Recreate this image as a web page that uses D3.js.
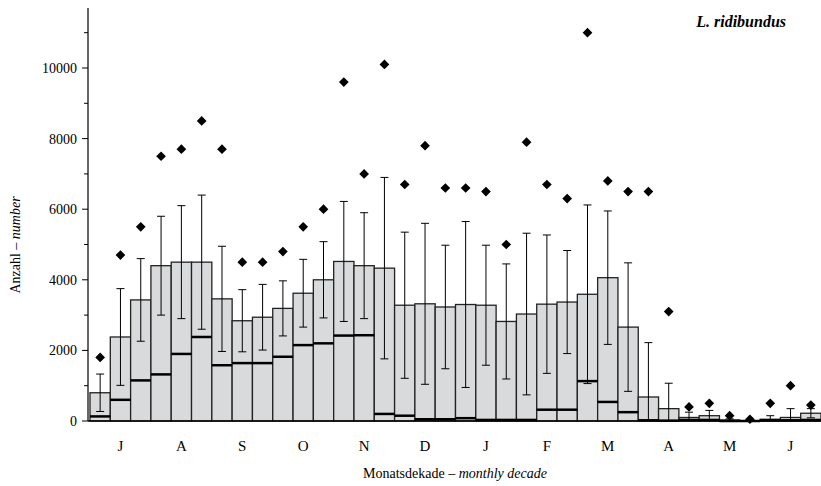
<!DOCTYPE html>
<html><head><meta charset="utf-8">
<script src="https://cdn.jsdelivr.net/npm/d3@7"></script>
<style>body{margin:0;background:#fff}text{font-family:"Liberation Serif",serif}</style>
</head><body><div id="chart"></div>
<script>
const months = ["J","A","S","O","N","D","J","F","M","A","M","J"];
const means  = [800,2380,3430,4400,4500,4500,3460,2840,2940,3190,3620,4000,4520,4400,4330,3280,3320,3230,3300,3280,2820,3030,3310,3370,3590,4060,2660,680,350,100,150,30,0,50,100,220];
const upper  = [1330,3750,4600,5800,6100,6400,4950,3720,3870,3970,4580,5080,6220,5900,6900,5350,5600,4980,5650,4980,4450,5320,5270,4830,6120,5950,4480,2220,1070,250,300,60,0,150,350,350];
const medians= [130,600,1150,1320,1900,2380,1580,1640,1640,1820,2150,2200,2420,2430,200,150,50,50,80,30,30,30,320,320,1130,540,250,20,10,30,30,0,0,20,20,30];
const maxima = [1800,4700,5500,7500,7700,8500,7700,4500,4500,4800,5500,6000,9600,7000,10100,6700,7800,6600,6600,6500,5000,7900,6700,6300,11000,6800,6500,6500,3100,400,500,150,50,500,1000,450];
const yTicks = [0,2000,4000,6000,8000,10000];

const W = 821, H = 486;
const svg = d3.select("#chart").append("svg").attr("width", W).attr("height", H);
const x = d3.scaleBand().domain(d3.range(36)).range([90, 821]).padding(0);
const y = d3.scaleLinear().domain([0, 10000]).range([421, 68]);
const xm = d3.scaleBand().domain(d3.range(12)).range([90, 821]);

const g = svg.append("g");
// bars
g.selectAll("rect.bar").data(means).join("rect")
  .attr("x", (d, i) => x(i)).attr("width", x.bandwidth())
  .attr("y", d => y(d)).attr("height", d => y(0) - y(d))
  .attr("fill", "#d9dadc").attr("stroke", "#222").attr("stroke-width", 1.3);
// medians
g.selectAll("line.med").data(medians).join("line")
  .attr("x1", (d, i) => x(i)).attr("x2", (d, i) => x(i) + x.bandwidth())
  .attr("y1", d => y(d)).attr("y2", d => y(d))
  .attr("stroke", "#000").attr("stroke-width", 2.5);
// error bars (mean ± sd, clipped at 0)
const err = means.map((m, i) => ({i, hi: upper[i], lo: Math.max(0, m - (upper[i] - m))}));
const eg = g.selectAll("g.err").data(err).join("g");
const cx = d => x(d.i) + x.bandwidth() / 2;
eg.append("line").attr("x1", cx).attr("x2", cx).attr("y1", d => y(d.hi)).attr("y2", d => y(d.lo)).attr("stroke", "#000");
eg.append("line").attr("x1", d => cx(d) - 4).attr("x2", d => cx(d) + 4).attr("y1", d => y(d.hi)).attr("y2", d => y(d.hi)).attr("stroke", "#000");
eg.filter(d => d.lo > 0).append("line").attr("x1", d => cx(d) - 4).attr("x2", d => cx(d) + 4).attr("y1", d => y(d.lo)).attr("y2", d => y(d.lo)).attr("stroke", "#000");
// maxima
g.selectAll("path.max").data(maxima).join("path")
  .attr("d", d3.symbol(d3.symbolDiamond2, 60))
  .attr("transform", (d, i) => `translate(${x(i) + x.bandwidth() / 2},${y(d)})`)
  .attr("fill", "#000");

// axes
svg.append("line").attr("x1", 88).attr("x2", 821).attr("y1", y(0)).attr("y2", y(0)).attr("stroke", "#000").attr("stroke-width", 1.5);
svg.append("line").attr("x1", 88).attr("x2", 88).attr("y1", y(0)).attr("y2", 8).attr("stroke", "#000").attr("stroke-width", 1.2);
const minor = d3.range(1000, 11001, 2000);
svg.selectAll("line.minor").data(minor).join("line").attr("x1", 84).attr("x2", 88).attr("y1", d => y(d)).attr("y2", d => y(d)).attr("stroke", "#000");
svg.selectAll("line.major").data(yTicks).join("line").attr("x1", 82).attr("x2", 88).attr("y1", d => y(d)).attr("y2", d => y(d)).attr("stroke", "#000");
svg.selectAll("text.yt").data(yTicks).join("text")
  .attr("x", 77).attr("y", d => y(d) + 5).attr("text-anchor", "end").attr("font-size", 14).text(d => d);
svg.selectAll("text.mt").data(months).join("text")
  .attr("x", (d, i) => xm(i) + xm.bandwidth() / 2).attr("y", 451).attr("text-anchor", "middle").attr("font-size", 15).text(d => d);

const xl = svg.append("text").attr("x", 455).attr("y", 478).attr("text-anchor", "middle").attr("font-size", 14);
xl.append("tspan").text("Monatsdekade – ");
xl.append("tspan").attr("font-style", "italic").text("monthly decade");
const yl = svg.append("text").attr("transform", "translate(20,245) rotate(-90)").attr("text-anchor", "middle").attr("font-size", 14);
yl.append("tspan").text("Anzahl – ");
yl.append("tspan").attr("font-style", "italic").text("number");
svg.append("text").attr("x", 786).attr("y", 27).attr("text-anchor", "end").attr("font-size", 16)
  .attr("font-weight", "bold").attr("font-style", "italic").text("L. ridibundus");
</script></body></html>
